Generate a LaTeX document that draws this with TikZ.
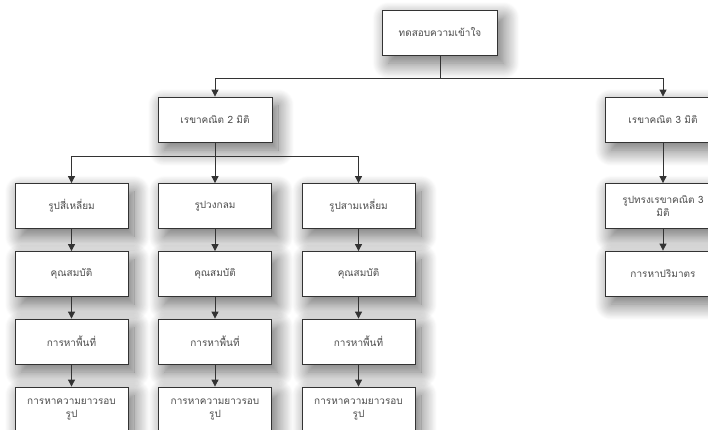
\documentclass[tikz,border=0pt]{standalone}
\usepackage{fontspec}
\newfontfamily\thaifont[Script=Thai]{Loma}
\usetikzlibrary{arrows.meta,shadows.blur}

\tikzset{
  box/.style={draw=black!80, line width=0.8pt, fill=white,
    minimum width=113pt, minimum height=45pt, inner sep=2pt,
    align=center, font=\thaifont\fontsize{10}{12.5}\selectfont, text=black!70,
    blur shadow={shadow xshift=6pt, shadow yshift=-8pt,
      shadow blur radius=16pt, shadow blur steps=20, shadow opacity=60}},
  conn/.style={draw=black!80, line width=0.8pt},
  arr/.style={conn, -{Triangle[length=7pt,width=7pt]}}
}

\begin{document}
\begin{tikzpicture}[x=1pt,y=-1pt]
\useasboundingbox (0,0) rectangle (708,429);
\clip (0,0) rectangle (708,429);

% root
\node[box, minimum width=115pt] (root) at (440,32.5) {ทดสอบความเข้าใจ};

% second level
\node[box, minimum width=114pt] (geo2) at (215,119.5) {เรขาคณิต 2 มิติ};
\node[box, minimum width=116pt] (geo3) at (663,119.5) {เรขาคณิต 3 มิติ};

% plane figures
\node[box] (sq)  at (71.5,206) {รูปสี่เหลี่ยม};
\node[box] (ci)  at (215,206) {รูปวงกลม};
\node[box] (tr)  at (358.5,206) {รูปสามเหลี่ยม};

\node[box] (sqp) at (71.5,274) {คุณสมบัติ};
\node[box] (cip) at (215,274) {คุณสมบัติ};
\node[box] (trp) at (358.5,274) {คุณสมบัติ};

\node[box] (sqa) at (71.5,341.5) {การหาพื้นที่};
\node[box] (cia) at (215,341.5) {การหาพื้นที่};
\node[box] (tra) at (358.5,341.5) {การหาพื้นที่};

\node[box] (sql) at (71.5,409.5) {การหาความยาวรอบ\\รูป};
\node[box] (cil) at (215,409.5) {การหาความยาวรอบ\\รูป};
\node[box] (trl) at (358.5,409.5) {การหาความยาวรอบ\\รูป};

% solids
\node[box, minimum width=116pt] (sol) at (663,206) {รูปทรงเรขาคณิต 3\\มิติ};
\node[box, minimum width=116pt] (vol) at (663,273.5) {การหาปริมาตร};

% junctions
\coordinate (j1) at (440,78);
\coordinate (j2) at (215,156);

% connectors
\draw[conn] (root.south) -- (j1);
\draw[arr] (j1) -| (geo2.north);
\draw[arr] (j1) -| (geo3.north);

\draw[conn] (geo2.south) -- (j2);
\draw[arr] (j2) -| (sq.north);
\draw[arr] (j2) -- (ci.north);
\draw[arr] (j2) -| (tr.north);

\draw[arr] (sq.south) -- (sqp.north);
\draw[arr] (sqp.south) -- (sqa.north);
\draw[arr] (sqa.south) -- (sql.north);

\draw[arr] (ci.south) -- (cip.north);
\draw[arr] (cip.south) -- (cia.north);
\draw[arr] (cia.south) -- (cil.north);

\draw[arr] (tr.south) -- (trp.north);
\draw[arr] (trp.south) -- (tra.north);
\draw[arr] (tra.south) -- (trl.north);

\draw[arr] (geo3.south) -- (sol.north);
\draw[arr] (sol.south) -- (vol.north);
\end{tikzpicture}
\end{document}
